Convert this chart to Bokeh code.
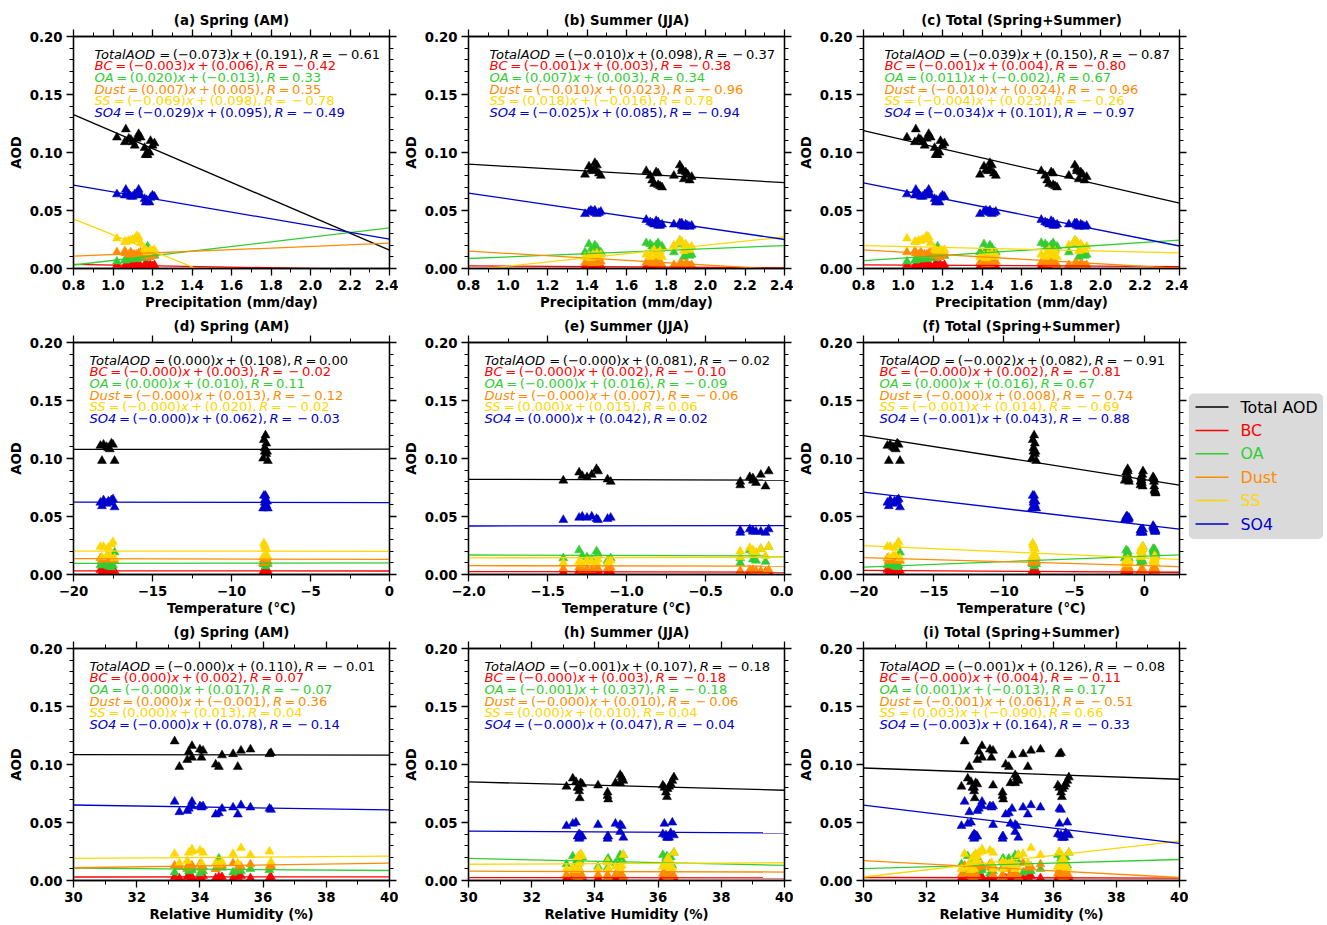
from bokeh.plotting import figure
from bokeh.models import (LinearAxis, FixedTicker, Range1d, BoxAnnotation,
                          CustomJSTickFormatter, CustomLabelingPolicy, ColumnDataSource)
from bokeh.layouts import row, column
from bokeh.embed import file_html
from bokeh.resources import INLINE
from bokeh.core.properties import value

FONT = "DejaVu Sans"
SPECIES = ["TotalAOD", "BC", "OA", "Dust", "SS", "SO4"]
LEGEND_LABELS = ["Total AOD", "BC", "OA", "Dust", "SS", "SO4"]
COLORS = ["#000000", "#ff0000", "#32cd32", "#ff8c00", "#ffd700", "#0000cd"]

# ---------------- spring (AM) samples ----------------
spring_precip = [1.065, 1.170, 1.160, 1.090, 1.110, 1.130, 1.020, 1.200, 1.080,
                 1.185, 1.175, 1.210, 1.060, 1.165, 1.120, 1.140, 1.190, 1.100]
spring_temp = [-7.85, -18.20, -7.80, -18.30, -7.90, -7.95, -17.60, -7.75, -18.10,
               -8.00, -17.40, -17.70, -17.80, -7.70, -17.50, -7.80, -17.90, -7.90]
spring_rh = [33.20, 33.35, 33.60, 33.65, 33.75, 33.75, 34.00, 34.05, 34.10,
             34.50, 34.60, 34.70, 35.05, 35.20, 35.30, 35.60, 36.25, 36.20]
spring_total = [0.120, 0.098, 0.104, 0.111, 0.106, 0.116, 0.113, 0.106, 0.112,
                0.100, 0.098, 0.108, 0.109, 0.098, 0.112, 0.113, 0.110, 0.109]
spring_bc = [0.003, 0.002, 0.003, 0.004, 0.002, 0.003, 0.003, 0.002, 0.004,
             0.002, 0.003, 0.003, 0.002, 0.003, 0.004, 0.002, 0.003, 0.002]
spring_oa = [0.007, 0.012, 0.010, 0.008, 0.011, 0.009, 0.006, 0.012, 0.008,
             0.010, 0.019, 0.011, 0.007, 0.009, 0.008, 0.010, 0.012, 0.009]
spring_dust = [0.013, 0.012, 0.011, 0.014, 0.012, 0.013, 0.014, 0.011, 0.012,
               0.010, 0.012, 0.013, 0.015, 0.011, 0.012, 0.014, 0.013, 0.012]
spring_ss = [0.023, 0.015, 0.017, 0.024, 0.025, 0.027, 0.026, 0.015, 0.024,
             0.015, 0.014, 0.016, 0.023, 0.015, 0.028, 0.022, 0.016, 0.025]
spring_so4 = [0.068, 0.059, 0.060, 0.062, 0.064, 0.068, 0.064, 0.063, 0.064,
              0.057, 0.058, 0.062, 0.063, 0.057, 0.065, 0.063, 0.061, 0.062]

# ---------------- summer (JJA) samples ----------------
summer_precip = [1.39, 1.41, 1.42, 1.43, 1.44, 1.44, 1.45, 1.46, 1.47,
                 1.84, 1.87, 1.88, 1.89, 1.90, 1.91, 1.92, 1.88, 1.93,
                 1.70, 1.72, 1.73, 1.74, 1.75, 1.76, 1.77, 1.78, 1.76]
summer_temp = [-1.40, -1.30, -1.28, -1.25, -1.19, -1.22, -1.18, -1.12, -1.10,
               -0.28, -0.10, -0.15, -0.28, -0.20, -0.20, -0.12, -0.22, -0.18,
               0.62, 0.68, 0.70, 0.72, 0.65, 0.75, 0.78, 0.80, 0.70]
summer_rh = [33.10, 33.30, 33.40, 34.65, 34.80, 36.45, 34.85, 34.10, 36.20,
             33.45, 36.50, 34.90, 33.50, 33.60, 36.35, 34.40, 33.55, 36.30,
             34.80, 33.50, 36.25, 34.40, 36.40, 36.28, 33.52, 34.42, 36.15]
summer_total = [0.081, 0.088, 0.085, 0.084, 0.091, 0.086, 0.089, 0.082, 0.080,
                0.080, 0.089, 0.086, 0.077, 0.083, 0.081, 0.076, 0.084, 0.079,
                0.084, 0.080, 0.076, 0.073, 0.083, 0.072, 0.071, 0.070, 0.082]
summer_bc = [0.002, 0.003, 0.002, 0.002, 0.003, 0.002, 0.003, 0.002, 0.002,
             0.002, 0.002, 0.001, 0.002, 0.003, 0.001, 0.002, 0.002, 0.001,
             0.002, 0.003, 0.002, 0.002, 0.003, 0.002, 0.002, 0.001, 0.002]
summer_oa = [0.014, 0.021, 0.016, 0.015, 0.020, 0.013, 0.018, 0.012, 0.014,
             0.014, 0.024, 0.022, 0.010, 0.020, 0.013, 0.011, 0.021, 0.012,
             0.022, 0.021, 0.019, 0.018, 0.020, 0.021, 0.017, 0.019, 0.022]
summer_dust = [0.005, 0.006, 0.004, 0.005, 0.006, 0.004, 0.005, 0.005, 0.006,
               0.003, 0.004, 0.003, 0.002, 0.004, 0.003, 0.002, 0.004, 0.003,
               0.005, 0.006, 0.004, 0.005, 0.006, 0.004, 0.005, 0.003, 0.006]
summer_ss = [0.010, 0.011, 0.009, 0.012, 0.010, 0.011, 0.013, 0.010, 0.012,
             0.020, 0.024, 0.022, 0.015, 0.021, 0.018, 0.016, 0.023, 0.019,
             0.012, 0.010, 0.014, 0.016, 0.011, 0.013, 0.015, 0.010, 0.012]
summer_so4 = [0.047, 0.049, 0.050, 0.049, 0.048, 0.050, 0.047, 0.048, 0.049,
              0.038, 0.039, 0.037, 0.036, 0.038, 0.037, 0.036, 0.039, 0.037,
              0.042, 0.040, 0.039, 0.038, 0.041, 0.037, 0.037, 0.038, 0.040]

# ---------------- regression fits (Total, BC, OA, Dust, SS, SO4) ----------------
slope_a = [-0.073, -0.003, 0.020, 0.007, -0.069, -0.029]
icpt_a = [0.191, 0.006, -0.013, 0.005, 0.098, 0.095]
r_a = [-0.61, -0.42, 0.33, 0.35, -0.78, -0.49]
slope_b = [-0.010, -0.001, 0.007, -0.010, 0.018, -0.025]
icpt_b = [0.098, 0.003, 0.003, 0.023, -0.016, 0.085]
r_b = [-0.37, -0.38, 0.34, -0.96, 0.78, -0.94]
slope_c = [-0.039, -0.001, 0.011, -0.010, -0.004, -0.034]
icpt_c = [0.150, 0.004, -0.002, 0.024, 0.023, 0.101]
r_c = [-0.87, -0.80, 0.67, -0.96, -0.26, -0.97]
slope_d = [0.00001, -0.00001, 0.00002, -0.00003, -0.00001, -0.00002]
icpt_d = [0.108, 0.003, 0.010, 0.013, 0.020, 0.062]
r_d = [0.00, -0.02, 0.11, -0.12, -0.02, -0.03]
slope_e = [-0.0003, -0.0002, -0.0004, -0.0002, 0.0002, 0.0002]
icpt_e = [0.0814, 0.0021, 0.0160, 0.0072, 0.0148, 0.0422]
r_e = [-0.02, -0.10, -0.09, -0.06, 0.06, 0.02]
slope_f = [-0.0019, -0.00007, 0.00047, -0.00035, -0.00053, -0.00142]
icpt_f = [0.0818, 0.0021, 0.0158, 0.0076, 0.0143, 0.0426]
r_f = [-0.91, -0.81, 0.67, -0.74, -0.69, -0.88]
slope_g = [-0.00005, 0.00002, -0.0002, 0.0004, 0.0002, -0.00043]
icpt_g = [0.1100, 0.0024, 0.0166, -0.0010, 0.0130, 0.0780]
r_g = [-0.01, 0.07, -0.07, 0.36, 0.04, -0.14]
slope_h = [-0.00072, -0.00002, -0.0006, -0.00007, 0.00013, -0.00015]
icpt_h = [0.1066, 0.0031, 0.0370, 0.0101, 0.0101, 0.0470]
r_h = [-0.18, -0.18, -0.18, -0.06, 0.04, -0.04]
slope_i = [-0.00097, -0.00005, 0.00078, -0.00145, 0.0031, -0.0033]
icpt_i = [0.1261, 0.0041, -0.0131, 0.0606, -0.0900, 0.1640]
r_i = [-0.08, -0.11, 0.17, -0.51, 0.66, -0.33]

# ---------------- axes ----------------
titles = ["(a) Spring (AM)", "(b) Summer (JJA)", "(c) Total (Spring+Summer)",
          "(d) Spring (AM)", "(e) Summer (JJA)", "(f) Total (Spring+Summer)",
          "(g) Spring (AM)", "(h) Summer (JJA)", "(i) Total (Spring+Summer)"]
xlabels = ["Precipitation (mm/day)", "Temperature (°C)", "Relative Humidity (%)"]

precip_range = (0.8, 2.4)
precip_ticks = [0.8, 1.0, 1.2, 1.4, 1.6, 1.8, 2.0, 2.2, 2.4]
precip_tick_labels = ["0.8", "1.0", "1.2", "1.4", "1.6", "1.8", "2.0", "2.2", "2.4"]
precip_minor = [0.9, 1.1, 1.3, 1.5, 1.7, 1.9, 2.1, 2.3]

temp_range = (-20, 0)
temp_all_range = (-20, 2.5)
temp_ticks = [-20, -15, -10, -5, 0]
temp_tick_labels = ["−20", "−15", "−10", "−5", "0"]
temp_minor = [-17.5, -12.5, -7.5, -2.5, 2.5]

temp_s_range = (-2.0, 0.0)
temp_s_ticks = [-2.0, -1.5, -1.0, -0.5, 0.0]
temp_s_tick_labels = ["−2.0", "−1.5", "−1.0", "−0.5", "0.0"]
temp_s_minor = [-1.75, -1.25, -0.75, -0.25]

rh_range = (30, 40)
rh_ticks = [30, 32, 34, 36, 38, 40]
rh_tick_labels = ["30", "32", "34", "36", "38", "40"]
rh_minor = [31, 33, 35, 37, 39]

y_range = (0.0, 0.2)
y_ticks = [0.0, 0.05, 0.10, 0.15, 0.20]
y_tick_labels = ["0.00", "0.05", "0.10", "0.15", "0.20"]
y_minor = [0.01, 0.02, 0.03, 0.04, 0.06, 0.07, 0.08, 0.09, 0.11, 0.12, 0.13, 0.14,
           0.16, 0.17, 0.18, 0.19]

FW, FH = 316, 232
BORDER_LEFT = [73, 70, 70]
BORDER_RIGHT = [9, 9, 9]
BORDER_TOP = [36, 27, 28]
BORDER_BOTTOM = [46, 46, 46]
LABEL_SIZE = "13.3px"

# DejaVu Sans advance widths (em) used to lay out the mixed-style equation text
CW = {' ': 0.318, '(': 0.390, ')': 0.390, '+': 0.838, ',': 0.318, '.': 0.318,
      '=': 0.838, '−': 0.838, 'x': 0.592, 'R': 0.695, 'T': 0.611, 'o': 0.612,
      't': 0.392, 'a': 0.613, 'l': 0.278, 'A': 0.684, 'O': 0.787, 'D': 0.770,
      'B': 0.686, 'C': 0.698, 'u': 0.634, 's': 0.521, 'S': 0.635}
for d in "0123456789":
    CW[d] = 0.636
EQ_SIZE = 13.1
GAP = 0.195   # math-mode operator spacing (em)


def tw(s):
    return sum(CW.get(c, 0.6) for c in s) * EQ_SIZE


def f3(v):
    return f"{v:.3f}".replace("-", "−")


def eq_pieces(name, s, b, r):
    P = [(name, "italic", 0.0), ("=", "normal", GAP), ("(" + f3(s) + ")", "normal", GAP),
         ("x", "italic", 0.0), ("+", "normal", GAP), ("(" + f3(b) + "),", "normal", GAP),
         ("R", "italic", GAP), ("=", "normal", GAP)]
    if r < 0:
        P += [("−", "normal", 2 * GAP), (f"{-r:.2f}", "normal", GAP)]
    else:
        P += [(f"{r:.2f}", "normal", GAP)]
    return P


def tick_fmt(ticks, labels):
    return CustomJSTickFormatter(args=dict(t=list(ticks), l=list(labels)), code="""
for (let i = 0; i < t.length; i++) { if (Math.abs(t[i] - tick) < 1e-6) { return l[i]; } }
return "";
""")


def style_axis(ax, labels):
    ax.major_tick_out = 7
    ax.major_tick_in = 0
    ax.minor_tick_out = 4
    ax.minor_tick_in = 0
    ax.major_tick_line_width = 1.3
    ax.minor_tick_line_width = 1.0
    ax.major_tick_line_color = "black"
    ax.minor_tick_line_color = "black"
    ax.axis_line_color = "black"
    ax.axis_line_width = 1.3
    if labels:
        ax.major_label_text_font = FONT
        ax.major_label_text_font_style = "bold"
        ax.major_label_text_font_size = LABEL_SIZE
        ax.major_label_text_color = "black"
        ax.axis_label_text_font = FONT
        ax.axis_label_text_font_style = "bold"
        ax.axis_label_text_font_size = LABEL_SIZE
        ax.axis_label_text_color = "black"
    else:
        ax.formatter = CustomJSTickFormatter(code="return '';")
        ax.major_label_text_font_size = "1px"
        ax.major_label_standoff = 0
        ax.major_label_policy = CustomLabelingPolicy(
            code="for (const i of [...indices]) { indices.unset(i) } return indices")


def panel(idx, xr, xt, xtl, xmin, xs, ys_list, slopes, icpts, rs, xlabel):
    row_i, col_i = divmod(idx, 3)
    p = figure(frame_width=FW, frame_height=FH, x_range=Range1d(*xr),
               y_range=Range1d(*y_range), output_backend="svg",
               toolbar_location=None, tools="",
               min_border_left=BORDER_LEFT[col_i], min_border_right=BORDER_RIGHT[col_i],
               min_border_top=BORDER_TOP[row_i], min_border_bottom=BORDER_BOTTOM[row_i])
    p.grid.visible = False
    p.outline_line_color = "black"
    p.outline_line_width = 1.3
    p.background_fill_color = "white"
    p.border_fill_color = "white"

    p.title.text = titles[idx]
    p.title.text_font = FONT
    p.title.text_font_style = "bold"
    p.title.text_font_size = LABEL_SIZE
    p.title.text_color = "black"
    p.title.align = "center"
    p.title.standoff = 4

    bottom = p.below[0]
    left = p.left[0]
    bottom.ticker = FixedTicker(ticks=xt, minor_ticks=xmin)
    bottom.formatter = tick_fmt(xt, xtl)
    bottom.axis_label = xlabel
    bottom.major_label_standoff = 4
    bottom.axis_label_standoff = 2
    style_axis(bottom, True)
    left.ticker = FixedTicker(ticks=y_ticks, minor_ticks=y_minor)
    left.formatter = tick_fmt(y_ticks, y_tick_labels)
    left.axis_label = "AOD"
    left.major_label_standoff = 4
    left.axis_label_standoff = 3
    style_axis(left, True)

    top = LinearAxis(ticker=FixedTicker(ticks=xt, minor_ticks=xmin))
    style_axis(top, False)
    p.add_layout(top, "above")
    right = LinearAxis(ticker=FixedTicker(ticks=y_ticks, minor_ticks=y_minor))
    style_axis(right, False)
    p.add_layout(right, "right")

    for j in range(6):
        p.scatter(xs, ys_list[j], marker="triangle", size=9,
                  fill_color=COLORS[j], line_color=COLORS[j], line_width=0.5)
    for j in range(6):
        lx = [xr[0], xr[1]]
        ly = [slopes[j] * v + icpts[j] for v in lx]
        p.line(lx, ly, line_color=COLORS[j], line_width=1.3)

    # equation text, built from the fit arrays (mixed italic / upright pieces)
    x0 = 21 if row_i == 0 else 16
    dx = (xr[1] - xr[0]) / FW
    dy = (y_range[1] - y_range[0]) / FH
    tx, ty, tt, ts, tc = [], [], [], [], []
    for j in range(6):
        cum = 0.0
        yline = y_range[1] - (17.7 + j * 11.67) * dy
        for s, st, gap in eq_pieces(SPECIES[j], slopes[j], icpts[j], rs[j]):
            cum += gap * EQ_SIZE
            tx.append(xr[0] + (x0 + cum) * dx)
            ty.append(yline)
            tt.append(s)
            ts.append(st)
            tc.append(COLORS[j])
            cum += tw(s)
    src = ColumnDataSource(dict(x=tx, y=ty, text=tt, fstyle=ts, color=tc))
    p.text(x="x", y="y", text="text", source=src, text_font=value(FONT),
           text_font_size=value(f"{EQ_SIZE}px"), text_font_style="fstyle",
           text_color="color", text_baseline="middle", text_align="left")
    return p


spring_y = [spring_total, spring_bc, spring_oa, spring_dust, spring_ss, spring_so4]
summer_y = [summer_total, summer_bc, summer_oa, summer_dust, summer_ss, summer_so4]
both_y = [a + b for a, b in zip(spring_y, summer_y)]

pa = panel(0, precip_range, precip_ticks, precip_tick_labels, precip_minor,
           spring_precip, spring_y, slope_a, icpt_a, r_a, xlabels[0])
pb = panel(1, precip_range, precip_ticks, precip_tick_labels, precip_minor,
           summer_precip, summer_y, slope_b, icpt_b, r_b, xlabels[0])
pc = panel(2, precip_range, precip_ticks, precip_tick_labels, precip_minor,
           spring_precip + summer_precip, both_y, slope_c, icpt_c, r_c, xlabels[0])
pd = panel(3, temp_range, temp_ticks, temp_tick_labels, temp_minor,
           spring_temp, spring_y, slope_d, icpt_d, r_d, xlabels[1])
pe = panel(4, temp_s_range, temp_s_ticks, temp_s_tick_labels, temp_s_minor,
           summer_temp, summer_y, slope_e, icpt_e, r_e, xlabels[1])
pf = panel(5, temp_all_range, temp_ticks, temp_tick_labels, temp_minor,
           spring_temp + summer_temp, both_y, slope_f, icpt_f, r_f, xlabels[1])
pg = panel(6, rh_range, rh_ticks, rh_tick_labels, rh_minor,
           spring_rh, spring_y, slope_g, icpt_g, r_g, xlabels[2])
ph = panel(7, rh_range, rh_ticks, rh_tick_labels, rh_minor,
           summer_rh, summer_y, slope_h, icpt_h, r_h, xlabels[2])
pi = panel(8, rh_range, rh_ticks, rh_tick_labels, rh_minor,
           spring_rh + summer_rh, both_y, slope_i, icpt_i, r_i, xlabels[2])

# ---------------- legend (separate strip at right) ----------------
LW, LH = 135, 925
leg = figure(frame_width=LW, frame_height=LH, x_range=Range1d(0, LW),
             y_range=Range1d(LH, 0), min_border=0, toolbar_location=None, tools="",
             output_backend="svg", x_axis_location=None, y_axis_location=None,
             title=None)
leg.grid.visible = False
leg.outline_line_color = None
leg.background_fill_color = "white"
leg.border_fill_color = "white"
leg.add_layout(BoxAnnotation(left=0.5, right=LW - 0.5, top=393.3, bottom=538.3,
                             fill_color="#dadada", fill_alpha=1.0,
                             line_color="#c8c8c8", line_width=1, border_radius=5,
                             level="underlay"))
ly0, lstep = 406.5, 23.4
leg.multi_line(xs=[[7, 40] for _ in LEGEND_LABELS],
               ys=[[ly0 + k * lstep] * 2 for k in range(len(LEGEND_LABELS))],
               line_color=COLORS, line_width=1.5)
leg.text(x=[52] * len(LEGEND_LABELS), y=[ly0 + k * lstep for k in range(len(LEGEND_LABELS))],
         text=LEGEND_LABELS, text_color=COLORS, text_font=value(FONT),
         text_font_size=value("15.8px"), text_baseline="middle", text_align="left")

grid = column(row(pa, pb, pc), row(pd, pe, pf), row(pg, ph, pi))
layout = row(grid, leg)

open("out.html", "w").write(file_html(layout, INLINE))
